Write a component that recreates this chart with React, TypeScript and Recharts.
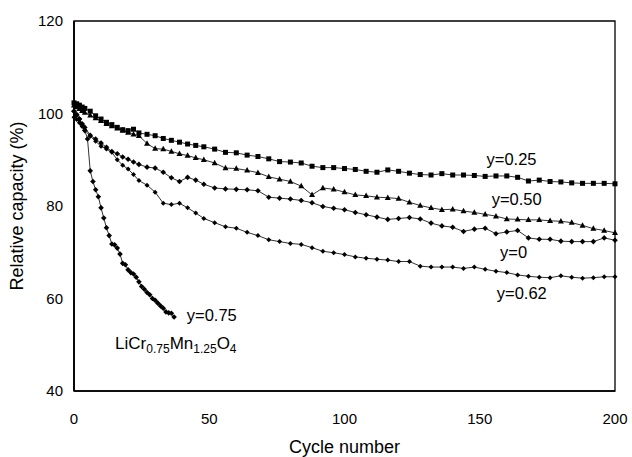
import React from "react"
import { LineChart, Line, XAxis, YAxis, ReferenceArea, ReferenceDot } from "recharts"

// cycle grid shared by the four long series
const cycles = [
  0, 1, 2, 3, 4, 6, 8, 10, 12, 14,
  16, 18, 20, 22, 24, 27, 30, 33, 36, 39,
  42, 45, 48, 52, 56, 60, 64, 68, 72, 76,
  80, 84, 88, 92, 96, 100, 104, 108, 112, 116,
  120, 124, 128, 132, 136, 140, 144, 148, 152, 156,
  160, 164, 168, 172, 176, 180, 184, 188, 192, 196,
  200,
]

const capY025 = [
  102.3, 102.1, 101.8, 101.4, 101.1, 100.5, 99.5, 98.8, 98.1, 97.6,
  97.0, 96.5, 96.3, 96.6, 95.8, 95.5, 95.2, 94.6, 94.2, 93.8,
  93.4, 93.1, 92.8, 92.3, 91.6, 91.5, 91.0, 90.7, 90.2, 89.6,
  89.5, 89.3, 88.6, 88.3, 88.3, 88.1, 87.9, 87.5, 87.3, 87.8,
  87.5, 87.1, 86.8, 86.7, 87.0, 86.7, 86.7, 86.6, 86.4, 86.5,
  86.5, 86.2, 85.4, 85.6, 85.3, 85.2, 85.0, 84.9, 84.9, 84.9,
  84.8,
]

const capY050 = [
  101.8, 101.4, 101.0, 100.6, 100.2, 99.6, 99.0, 98.4, 97.8, 97.3,
  96.8, 96.3, 95.9, 95.5, 95.2, 93.5, 92.4, 92.3, 91.8, 91.3,
  90.9, 90.4, 90.0, 89.3, 88.2, 88.1, 87.7, 87.2, 86.3, 85.8,
  85.3, 84.3, 82.4, 83.9, 83.6, 83.0, 82.4, 82.2, 81.9, 81.8,
  81.6, 80.8, 80.1, 79.6, 79.2, 79.3, 78.9, 78.6, 78.2, 77.8,
  77.2, 77.1, 77.0, 77.0, 76.8, 76.7, 76.4, 75.8, 75.1, 74.7,
  74.2,
]

const capY0 = [
  100.5, 99.8, 98.8, 97.8, 97.0, 95.3, 94.5, 93.6, 92.7, 91.8,
  91.3, 90.6, 90.1, 89.5, 89.0, 88.4, 88.2, 87.3, 86.1, 85.3,
  86.2, 85.6, 84.7, 83.9, 83.7, 83.6, 83.5, 83.3, 81.9, 81.7,
  81.5, 81.2, 80.7, 79.9, 79.5, 79.2, 78.6, 78.1, 77.6, 77.1,
  77.3, 77.5, 77.2, 76.3, 75.7, 75.4, 74.5, 75.0, 75.2, 74.0,
  74.4, 74.7, 73.1, 72.8, 72.8, 72.4, 72.3, 72.3, 72.3, 73.1,
  72.6,
]

const capY062 = [
  99.2, 98.7, 98.0, 97.2, 96.4, 95.1, 94.0, 92.9, 92.3, 91.6,
  90.0, 88.8, 88.0, 86.8, 85.5, 84.5, 83.0, 80.6, 80.3, 80.6,
  79.6, 78.5, 77.3, 76.4, 75.5, 75.2, 74.3, 73.6, 72.7, 72.3,
  71.9, 71.7, 71.0, 70.2, 69.9, 69.5, 69.0, 68.7, 68.5, 68.3,
  68.0, 68.0, 67.0, 66.8, 66.8, 66.8, 66.5, 66.8, 66.3, 65.9,
  65.6, 65.1, 64.8, 64.6, 64.5, 64.9, 64.6, 64.4, 64.5, 64.7,
  64.7,
]

const cyclesY075 = [
  0, 1, 2, 3, 4, 5, 6, 7, 8, 9,
  10, 11, 12, 13, 14, 15, 16, 17, 18, 19,
  20, 21, 22, 23, 24, 25, 26, 27, 28, 29,
  30, 31, 32, 33, 34, 35, 36, 37,
]
const capY075 = [
  100.5, 99.6, 98.8, 97.5, 96.3, 94.5, 87.6, 85.3, 83.5, 82.0,
  79.6, 77.4, 75.3, 73.6, 71.8, 71.6, 70.9, 69.6, 67.6, 67.3,
  66.2, 65.6, 65.3, 64.6, 63.6, 62.6, 62.0, 61.3, 60.8, 60.0,
  59.6, 59.0, 58.4, 57.9, 57.1, 56.9, 56.8, 56.0,
]

const xTicks = [0, 50, 100, 150, 200]
const yTicks = [40, 60, 80, 100, 120]
const xMinorTicks = [0, 10, 20, 30, 40, 50, 60, 70, 80, 90, 100, 110, 120, 130, 140, 150, 160, 170, 180, 190, 200]
const yMinorTicks = [40, 45, 50, 55, 60, 65, 70, 75, 80, 85, 90, 95, 100, 105, 110, 115, 120]

const toPoints = (xs: number[], ys: number[]) => xs.map((c, i) => ({ cycle: c, cap: ys[i] }))

const FONT = '"Liberation Sans", Arial, Helvetica, sans-serif'
const LINE = "#333"

const square = (p: any) => (
  <rect key={p.index} x={p.cx - 2.5} y={p.cy - 2.5} width={5} height={5} fill="#000" />
)
const triangle = (p: any) => (
  <path
    key={p.index}
    d={`M${p.cx},${p.cy - 3.3}L${p.cx + 3},${p.cy + 2.2}L${p.cx - 3},${p.cy + 2.2}Z`}
    fill="#000"
  />
)
const diamond = (s: number) => (p: any) => (
  <path
    key={p.index}
    d={`M${p.cx},${p.cy - s}L${p.cx + s},${p.cy}L${p.cx},${p.cy + s}L${p.cx - s},${p.cy}Z`}
    fill="#000"
  />
)

const note = (text: string) => (p: any) => (
  <text x={p.cx} y={p.cy} fontSize={16.5} fontFamily={FONT} fill="#000">
    {text}
  </text>
)

const formula = (p: any) => (
  <text x={p.cx} y={p.cy} fontSize={17} fontFamily={FONT} fill="#000">
    <tspan>LiCr</tspan>
    <tspan dy={4} fontSize={12}>0.75</tspan>
    <tspan dy={-4}>Mn</tspan>
    <tspan dy={4} fontSize={12}>1.25</tspan>
    <tspan dy={-4}>O</tspan>
    <tspan dy={4} fontSize={12}>4</tspan>
  </text>
)

export default function App() {
  const tickStyle = { fill: "#000", fontSize: 15, fontFamily: FONT }
  return (
    <div style={{ position: "absolute", left: 0, top: 0, background: "#fff" }}>
      <LineChart width={632} height={457} margin={{ top: 21, right: 17, left: 0, bottom: 0 }}>
        <XAxis
          type="number"
          dataKey="cycle"
          domain={[0, 200]}
          ticks={xTicks}
          tickLine={false}
          tickSize={0}
          tickMargin={22}
          tick={tickStyle}
          axisLine={{ stroke: "#000", strokeWidth: 1.5 }}
          height={66}
          label={{ value: "Cycle number", position: "insideBottom", offset: 4, fill: "#000", fontSize: 18, fontFamily: FONT }}
        />
        <XAxis
          xAxisId="minor"
          type="number"
          dataKey="cycle"
          domain={[0, 200]}
          ticks={xMinorTicks}
          mirror
          axisLine={false}
          tickSize={3}
          tickLine={{ stroke: "#000" }}
          tickFormatter={() => ""}
          height={0}
        />
        <YAxis
          type="number"
          domain={[40, 120]}
          ticks={yTicks}
          tickLine={false}
          tickSize={0}
          tickMargin={11}
          tick={tickStyle}
          axisLine={{ stroke: "#000", strokeWidth: 1.8 }}
          width={74}
          label={{ value: "Relative capacity (%)", angle: -90, position: "center", dx: -20, fill: "#000", fontSize: 18, fontFamily: FONT }}
        />
        <YAxis
          yAxisId="minor"
          type="number"
          domain={[40, 120]}
          ticks={yMinorTicks}
          mirror
          axisLine={false}
          tickSize={3}
          tickLine={{ stroke: "#000" }}
          tickFormatter={() => ""}
          width={0}
        />
        <ReferenceArea x1={0} x2={200} y1={40} y2={120} fill="none" stroke="#000" strokeWidth={1.3} />

        <Line data={toPoints(cycles, capY025)} dataKey="cap" stroke={LINE} strokeWidth={1} dot={square} isAnimationActive={false} />
        <Line data={toPoints(cycles, capY050)} dataKey="cap" stroke={LINE} strokeWidth={1} dot={triangle} isAnimationActive={false} />
        <Line data={toPoints(cycles, capY0)} dataKey="cap" stroke={LINE} strokeWidth={1} dot={diamond(2.8)} isAnimationActive={false} />
        <Line data={toPoints(cycles, capY062)} dataKey="cap" stroke={LINE} strokeWidth={1} dot={diamond(2.5)} isAnimationActive={false} />
        <Line data={toPoints(cyclesY075, capY075)} dataKey="cap" stroke={LINE} strokeWidth={1} dot={diamond(2.8)} isAnimationActive={false} />

        <ReferenceDot x={152.5} y={88.9} r={0} shape={note("y=0.25")} />
        <ReferenceDot x={154.4} y={80.2} r={0} shape={note("y=0.50")} />
        <ReferenceDot x={157.5} y={68.7} r={0} shape={note("y=0")} />
        <ReferenceDot x={156.3} y={59.8} r={0} shape={note("y=0.62")} />
        <ReferenceDot x={41.7} y={55.2} r={0} shape={note("y=0.75")} />
        <ReferenceDot x={15.2} y={49.0} r={0} shape={formula} />
      </LineChart>
    </div>
  )
}
